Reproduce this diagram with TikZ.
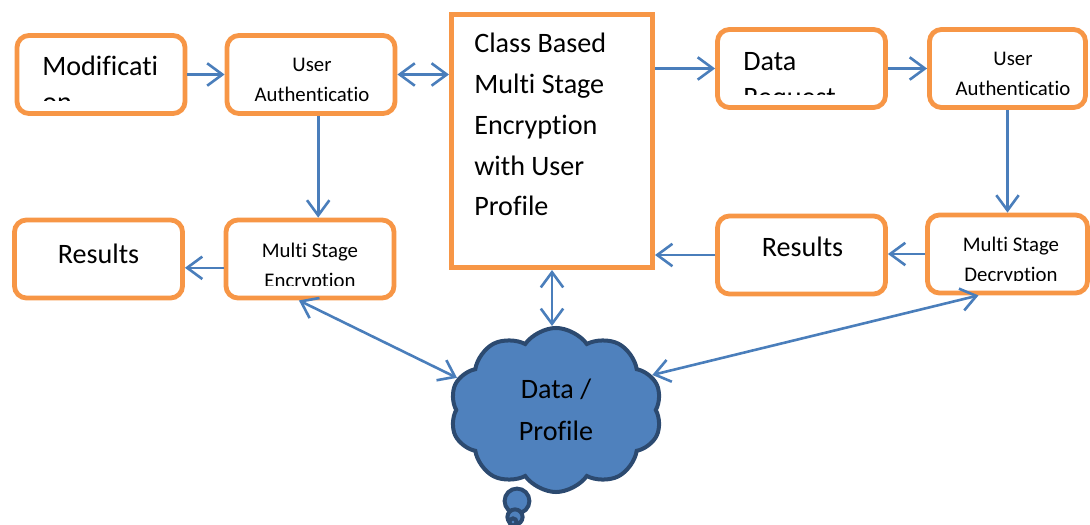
\documentclass[tikz,border=0pt]{standalone}
\usepackage{fontspec}
\setmainfont{Carlito}[RawFeature={-liga;-calt;-clig}]
\usetikzlibrary{arrows.meta, shapes.symbols, positioning, calc}
\definecolor{boxorange}{HTML}{F79646}
\definecolor{arrowblue}{HTML}{4A7EBB}
\definecolor{cloudfill}{HTML}{4F81BD}
\definecolor{clouddraw}{HTML}{2C4A70}
\tikzset{box/.style = {
  % Rectangle:
  rectangle,
  draw=boxorange, fill=white,
  line width=1.2mm, rounded corners=3mm,
  minimum width=4.2cm, minimum height=1.95cm
  }}
\tikzset{mainbox/.style = {
  % Rectangle:
  box, sharp corners,
  minimum width=5.03cm, minimum height=6.33cm
  }}
\tikzset{bigtext/.style = {
  % Text:
  inner sep=0pt, align=left,
  font=\fontsize{20}{25.5}\selectfont
  }}
\tikzset{smalltext/.style = {
  % Text:
  inner sep=0pt, align=center,
  font=\fontsize{14.8}{21.3}\selectfont
  }}
\tikzset{cloudshape/.style = {
  % Cloud:
  cloud, cloud puffs=10, cloud puff arc=110, aspect=1.1,
  draw=clouddraw, fill=cloudfill, line width=1mm,
  minimum width=5.3cm, minimum height=4.1cm,
  % Text:
  align=center, font=\fontsize{20}{29.8}\selectfont
  }}
\tikzset{bubble/.style = {
  circle, inner sep=0pt,
  draw=clouddraw, fill=cloudfill, line width=1mm
  }}
\tikzset{arrow/.style = {
  -{Straight Barb[length=3.8mm, width=5.6mm]},
  draw=arrowblue,
  line width=0.65mm
  }}
\tikzset{twoway/.style = {
  arrow,
  {Straight Barb[length=3.8mm, width=5.6mm]}-{Straight Barb[length=3.8mm, width=5.6mm]}
  }}

\begin{document}
\begin{tikzpicture}[x=0.025cm, y=-0.025cm]
  \useasboundingbox (0,0) rectangle (1090,525);
  %
  % Specification of nodes
  %
  \node (mod) [box] at (101,74.5) {};
  \node (ua1) [box] at (311,74.5) {};
  \node (main) [mainbox] at (552,141) {};
  \node (dr) [box] at (801.5,68.5) {};
  \node (ua2) [box, minimum width=3.9cm] at (1007.5,68.5) {};

  \node (resl) [box] at (98.5,259) {};
  \node (mse) [box] at (310,259) {};
  \node (resr) [box] at (801.5,255) {};
  \node (msd) [box, minimum width=4cm] at (1007.5,254) {};

  \node (data) [cloudshape] at (556,410) {Data /\\Profile};
  \node (bubble1) [bubble, minimum size=0.62cm] at (517,501) {};
  \node (bubble2) [bubble, minimum size=0.38cm] at (515,517) {};
  \node (bubble3) [bubble, minimum size=0.18cm] at (513,522) {};

  %
  % Texts
  %
  \begin{scope}
    \clip (14,33) rectangle (188,101);
    \node (mod-text) [bigtext, anchor=north west] at (42,56) {Modificati\\on};
  \end{scope}
  \node (ua1-text) [smalltext, anchor=north] at (312,58) {User\\Authenticatio};
  \node (main-text) [bigtext, font=\fontsize{20}{29}\selectfont, anchor=north west] at (474,33)
    {Class Based\\Multi Stage\\Encryption\\with User\\Profile};
  \begin{scope}
    \clip (715,27) rectangle (888,95);
    \node (dr-text) [bigtext, anchor=north west] at (743,52) {Data\\Request};
  \end{scope}
  \node (ua2-text) [smalltext, anchor=north] at (1013,52) {User\\Authenticatio};

  \node (resl-text) [bigtext, anchor=north] at (98.5,244) {Results};
  \begin{scope}
    \clip (223,218) rectangle (397,285);
    \node (mse-text) [smalltext, anchor=north] at (310,243) {Multi Stage\\Encryption};
  \end{scope}
  \node (resr-text) [bigtext, anchor=north] at (802.5,237) {Results};
  \begin{scope}
    \clip (925,213) rectangle (1090,280);
    \node (msd-text) [smalltext, anchor=north] at (1011,237) {Multi Stage\\Decryption};
  \end{scope}

  %
  % Specification of lines
  %
  \draw [arrow] (mod.east) -- (ua1.west);
  \draw [twoway] (ua1.east) -- (ua1.east -| main.west);
  \draw [arrow] (main.east |- dr.west) -- (dr.west);
  \draw [arrow] (dr.east) -- (ua2.west);

  \draw [arrow] ([xshift=0.18cm]ua1.south) -- ([xshift=0.18cm]ua1.south |- mse.north);
  \draw [arrow] (ua2.south) -- (ua2.south |- msd.north);

  \draw [arrow] ([yshift=-0.22cm]mse.west) -- ([yshift=-0.22cm]mse.west -| resl.east);
  \draw [arrow] (msd.west) -- (msd.west -| resr.east);
  \draw [arrow] (resr.west) -- (resr.west -| main.east);

  \draw [twoway] (main.south) -- (main.south |- data.north);
  \draw [twoway] (mse.-105) -- (data.162);
  \draw [twoway] (msd.-125) -- (data.20);
\end{tikzpicture}
\end{document}
